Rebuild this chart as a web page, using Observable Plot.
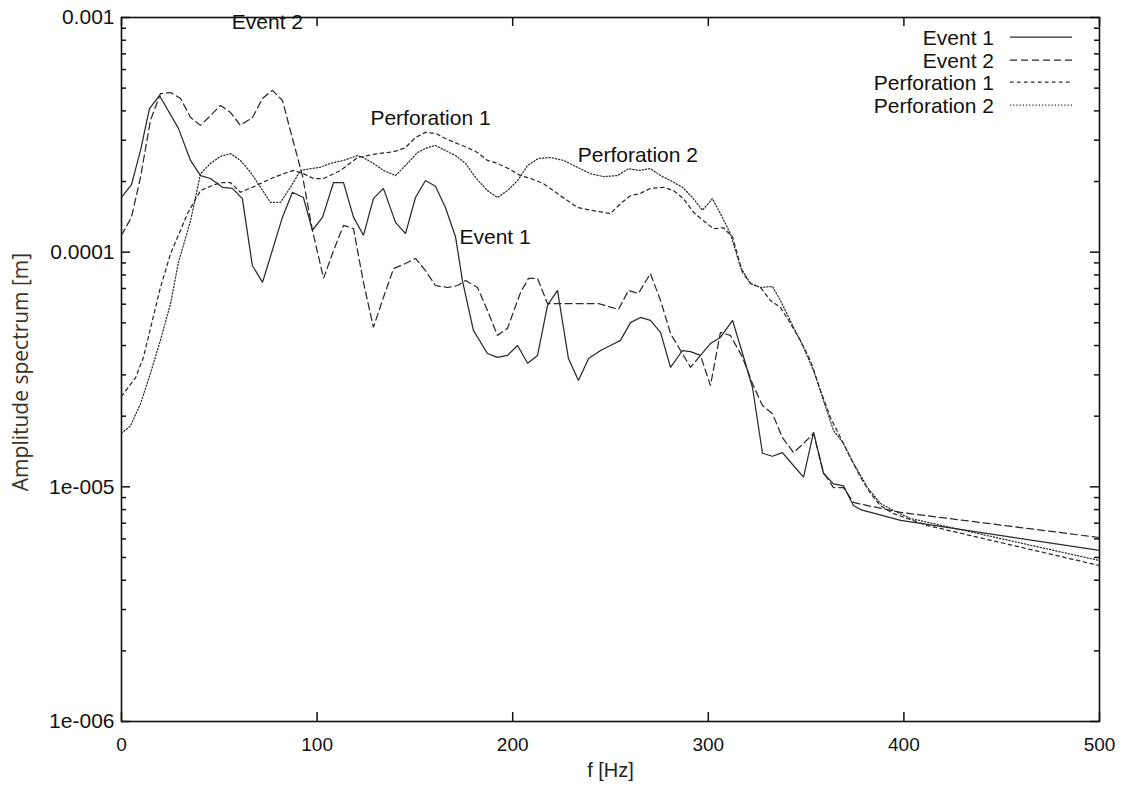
<!DOCTYPE html>
<html>
<head>
<meta charset="utf-8">
<script src="https://cdn.jsdelivr.net/npm/d3@7"></script>
<script src="https://cdn.jsdelivr.net/npm/@observablehq/plot@0.6"></script>
<style>
  body { margin: 0; background: #fff; }
  #wrap { position: relative; width: 1127px; height: 794px; }
  #legend { position: absolute; left: 0; top: 0; pointer-events: none; }
</style>
</head>
<body>
<div id="wrap"></div>
<script>
// ---------- data ----------
const seriesNames = ["Event 1", "Event 2", "Perforation 1", "Perforation 2"];

const event1F = [0,5.1,9.7,14.3,19.4,29.1,35.3,40.4,45.5,51.6,56.7,61.8,66.9,72.1,82.3,87.4,93.0,97.6,102.8,108.4,113.5,118.6,123.7,128.8,133.9,140.1,145.2,150.3,155.4,160.5,165.6,170.8,174.3,179.9,187.1,192.2,197.3,202.5,207.6,212.7,217.8,222.9,228.5,233.6,238.8,244.9,250.0,255.1,260.2,265.3,270.4,275.6,280.7,286.8,290.9,296.0,301.1,306.2,312.4,317.5,322.6,327.7,332.8,337.9,343.6,348.7,353.8,358.9,364.0,369.1,374.2,377.8,398.3,500];
const event1A = [1.71e-4,1.94e-4,2.71e-4,4.09e-4,4.65e-4,3.37e-4,2.46e-4,2.12e-4,2.06e-4,1.89e-4,1.87e-4,1.69e-4,8.77e-5,7.43e-5,1.41e-4,1.80e-4,1.71e-4,1.24e-4,1.41e-4,1.98e-4,1.98e-4,1.41e-4,1.18e-4,1.69e-4,1.87e-4,1.34e-4,1.20e-4,1.71e-4,2.02e-4,1.91e-4,1.55e-4,1.16e-4,7.57e-5,4.64e-5,3.70e-5,3.56e-5,3.63e-5,4.00e-5,3.36e-5,3.63e-5,5.93e-5,6.87e-5,3.52e-5,2.84e-5,3.52e-5,3.81e-5,4.00e-5,4.21e-5,5.01e-5,5.27e-5,5.12e-5,4.55e-5,3.23e-5,3.81e-5,3.77e-5,3.63e-5,4.08e-5,4.33e-5,5.12e-5,3.70e-5,2.65e-5,1.39e-5,1.35e-5,1.40e-5,1.23e-5,1.10e-5,1.71e-5,1.14e-5,1.03e-5,1.01e-5,8.32e-6,8.00e-6,7.19e-6,5.36e-6];

const event2F = [0,5.1,9.7,14.8,19.9,25.1,30.2,35.3,40.4,45.5,50.6,55.7,60.8,67.0,72.1,77.2,82.3,87.4,92.5,97.6,103.3,108.4,113.5,118.6,123.7,128.8,133.9,139.1,145.2,150.3,155.4,160.5,166.7,171.8,175.9,182.0,187.1,192.2,197.3,204.0,208.1,212.7,217.8,224.4,234.7,243.9,254.1,259.2,264.3,270.4,275.6,280.7,285.8,290.9,296.0,301.1,306.2,311.3,317.5,322.6,327.7,332.8,337.9,343.6,348.7,353.8,358.9,364.0,369.1,374.2,381.4,398.3,500];
const event2A = [1.18e-4,1.41e-4,2.08e-4,3.64e-4,4.74e-4,4.79e-4,4.52e-4,3.75e-4,3.47e-4,3.82e-4,4.22e-4,3.94e-4,3.47e-4,3.75e-4,4.52e-4,4.89e-4,4.43e-4,3.05e-4,2.12e-4,1.24e-4,7.73e-5,1.016e-4,1.30e-4,1.26e-4,7.43e-5,4.78e-5,6.41e-5,8.51e-5,8.95e-5,9.40e-5,8.35e-5,7.21e-5,7.07e-5,7.21e-5,7.57e-5,7.07e-5,5.64e-5,4.42e-5,4.73e-5,6.73e-5,7.73e-5,7.73e-5,6.04e-5,6.04e-5,6.04e-5,6.04e-5,5.70e-5,6.87e-5,6.67e-5,8.11e-5,6.22e-5,4.50e-5,3.81e-5,3.23e-5,3.63e-5,2.70e-5,4.55e-5,4.42e-5,3.56e-5,2.75e-5,2.22e-5,2.05e-5,1.62e-5,1.40e-5,1.53e-5,1.69e-5,1.15e-5,9.93e-6,9.93e-6,8.58e-6,8.32e-6,7.78e-6,6.08e-6];

const perf1F = [0,7.2,11.2,15.8,19.9,25.1,30.2,33.7,40.4,45.5,50.6,55.7,60.8,67.0,72.1,77.7,82.8,87.9,93.0,98.2,103.3,112.0,120.7,125.8,130.9,136.5,141.1,145.2,150.3,155.4,160.5,165.6,171.8,176.9,182.0,187.1,192.2,197.9,204.0,209.1,215.7,224.4,233.1,239.8,250.0,255.1,260.2,265.3,270.4,277.1,282.2,287.3,292.4,297.5,302.7,307.8,312.4,317.5,321.6,326.7,331.8,336.9,342.0,347.1,352.2,357.4,362.5,367.6,372.7,377.8,382.9,388.0,394.7,412.1,500];
const perf1A = [2.43e-5,2.92e-5,3.56e-5,5.12e-5,7.07e-5,9.87e-5,1.24e-4,1.46e-4,1.83e-4,1.91e-4,1.98e-4,1.98e-4,1.80e-4,1.89e-4,1.98e-4,2.08e-4,2.16e-4,2.23e-4,2.16e-4,2.06e-4,2.06e-4,2.23e-4,2.53e-4,2.58e-4,2.63e-4,2.66e-4,2.71e-4,2.79e-4,3.08e-4,3.24e-4,3.21e-4,3.05e-4,2.90e-4,2.79e-4,2.66e-4,2.46e-4,2.39e-4,2.27e-4,2.12e-4,2.06e-4,1.96e-4,1.74e-4,1.55e-4,1.51e-4,1.46e-4,1.61e-4,1.74e-4,1.78e-4,1.87e-4,1.89e-4,1.83e-4,1.69e-4,1.48e-4,1.36e-4,1.26e-4,1.27e-4,1.16e-4,8.19e-5,7.35e-5,7.07e-5,6.22e-5,5.81e-5,4.97e-5,4.21e-5,3.45e-5,2.57e-5,1.97e-5,1.62e-5,1.33e-5,1.10e-5,9.37e-6,8.32e-6,7.69e-6,6.84e-6,4.62e-6];

const perf2F = [0,4.6,9.7,14.8,19.9,25.1,29.1,35.3,40.4,45.5,50.6,55.7,60.8,66.0,71.1,76.2,81.3,86.4,91.5,96.6,101.7,106.9,113.5,120.7,123.7,128.8,133.9,140.1,146.2,151.3,156.4,160.5,165.6,170.8,175.9,181.0,187.1,192.2,197.3,202.5,207.6,213.2,219.3,226.0,233.1,239.8,246.4,253.6,259.2,264.3,270.4,275.6,280.7,286.8,291.9,297.0,302.1,306.2,311.3,316.5,321.6,326.7,332.8,336.9,343.6,348.7,353.8,358.9,364.0,369.1,374.2,381.4,388.0,396.7,403.4,500];
const perf2A = [1.69e-5,1.82e-5,2.26e-5,3.04e-5,4.21e-5,6.04e-5,9.04e-5,1.36e-4,2.16e-4,2.39e-4,2.56e-4,2.63e-4,2.46e-4,2.19e-4,1.89e-4,1.63e-4,1.63e-4,1.89e-4,2.23e-4,2.27e-4,2.30e-4,2.39e-4,2.46e-4,2.58e-4,2.53e-4,2.39e-4,2.23e-4,2.12e-4,2.39e-4,2.66e-4,2.79e-4,2.85e-4,2.71e-4,2.58e-4,2.39e-4,2.08e-4,1.83e-4,1.71e-4,1.83e-4,2.02e-4,2.34e-4,2.51e-4,2.53e-4,2.46e-4,2.30e-4,2.16e-4,2.10e-4,2.12e-4,2.27e-4,2.23e-4,2.27e-4,2.12e-4,2.02e-4,1.89e-4,1.71e-4,1.51e-4,1.69e-4,1.46e-4,1.20e-4,8.61e-5,7.35e-5,7.07e-5,7.14e-5,6.22e-5,4.78e-5,3.93e-5,3.13e-5,2.33e-5,1.74e-5,1.53e-5,1.26e-5,9.93e-6,8.49e-6,7.78e-6,7.33e-6,4.85e-6];

// axis ticks and labels
const xTicks = [0, 100, 200, 300, 400, 500];
const yMajorTicks = [1e-6, 1e-5, 1e-4, 1e-3];
const yTickLabels = ["1e-006", "1e-005", "0.0001", "0.001"];
const yMinorTicks = [2e-6,3e-6,4e-6,5e-6,6e-6,7e-6,8e-6,9e-6,
                     2e-5,3e-5,4e-5,5e-5,6e-5,7e-5,8e-5,9e-5,
                     2e-4,3e-4,4e-4,5e-4,6e-4,7e-4,8e-4,9e-4];
const xLabel = "f [Hz]";
const yLabel = "Amplitude spectrum [m]";

// in-plot annotations
const annotLabels = ["Event 2", "Perforation 1", "Perforation 2", "Event 1"];
const annotF = [74.6, 158, 264, 191];
const annotA = [9.5e-4, 3.71e-4, 2.58e-4, 1.155e-4];

// ---------- styles ----------
const dashes = ["none", "7,4", "3.5,3.5", "1.2,2"];
const lineColor = "#2a2a2a";
const font = "'Liberation Sans', Arial, Helvetica, sans-serif";
const yLabelFont = "'Open Sans', 'Liberation Sans', sans-serif";

// ---------- build ----------
const fList = [event1F, event2F, perf1F, perf2F];
const aList = [event1A, event2A, perf1A, perf2A];
const series = seriesNames.map((name, k) =>
  fList[k].map((f, i) => ({ name, f, a: aList[k][i] }))
);

const W = 1127, H = 794;
const mL = 121, mR = 28, mT = 17, mB = 73;
const plotW = W - mL - mR, plotH = H - mT - mB;

const chart = Plot.plot({
  width: W, height: H,
  marginLeft: mL, marginRight: mR, marginTop: mT, marginBottom: mB,
  style: { fontFamily: font, background: "#fff", color: "#111", overflow: "visible" },
  x: { domain: [0, 500] },
  y: { type: "log", domain: [1e-6, 1e-3] },
  marks: [
    // inward ticks
    Plot.ruleX(xTicks, { insetTop: plotH - 9, stroke: "#111", strokeWidth: 1.5 }),
    Plot.ruleX(xTicks, { insetBottom: plotH - 9, stroke: "#111", strokeWidth: 1.5 }),
    Plot.ruleY(yMajorTicks, { insetRight: plotW - 9, stroke: "#111", strokeWidth: 1.5 }),
    Plot.ruleY(yMajorTicks, { insetLeft: plotW - 9, stroke: "#111", strokeWidth: 1.5 }),
    Plot.ruleY(yMinorTicks, { insetRight: plotW - 5, stroke: "#111", strokeWidth: 1.5 }),
    Plot.ruleY(yMinorTicks, { insetLeft: plotW - 5, stroke: "#111", strokeWidth: 1.5 }),
    Plot.frame({ stroke: "#111", strokeWidth: 1.6 }),
    Plot.axisX({ ticks: xTicks, tickSize: 0, tickPadding: 16, fontSize: 19, label: null, tickFormat: d => String(d) }),
    Plot.axisY({ ticks: yMajorTicks, tickSize: 0, tickPadding: 7, fontSize: 21, label: null,
                 tickFormat: d => yTickLabels[yMajorTicks.indexOf(d)] }),
    ...series.map((s, k) => Plot.line(s, {
      x: "f", y: "a", stroke: lineColor, strokeWidth: 1.25,
      strokeDasharray: dashes[k], strokeLinejoin: "miter"
    })),
    Plot.text(annotLabels, { x: annotF, y: annotA, fontSize: 21, fill: "#111" }),
    Plot.text([xLabel], { frameAnchor: "bottom", dy: 55, fontSize: 20, fill: "#222" })
  ]
});

const wrap = document.getElementById("wrap");
wrap.appendChild(chart);

// y-axis title, centred on the frame
d3.select(chart).append("text")
  .attr("transform", `translate(20,${mT + plotH / 2 + 3}) rotate(-90)`)
  .attr("text-anchor", "middle").attr("dominant-baseline", "central")
  .style("font-family", yLabelFont).style("font-size", "21px").attr("fill", "#3a3428")
  .text(yLabel);

// ---------- legend (inside the frame, top right) ----------
const leg = d3.select(wrap).append("svg")
  .attr("id", "legend").attr("width", W).attr("height", 130);
const rowY = [37, 60, 82, 105];
seriesNames.forEach((name, k) => {
  leg.append("text")
    .attr("x", 994).attr("y", rowY[k])
    .attr("text-anchor", "end").attr("dominant-baseline", "central")
    .attr("font-family", font).attr("font-size", 21).attr("fill", "#111")
    .text(name);
  leg.append("line")
    .attr("x1", 1010).attr("x2", 1072).attr("y1", rowY[k]).attr("y2", rowY[k])
    .attr("stroke", lineColor).attr("stroke-width", 1.25)
    .attr("stroke-dasharray", dashes[k]);
});
</script>
</body>
</html>
